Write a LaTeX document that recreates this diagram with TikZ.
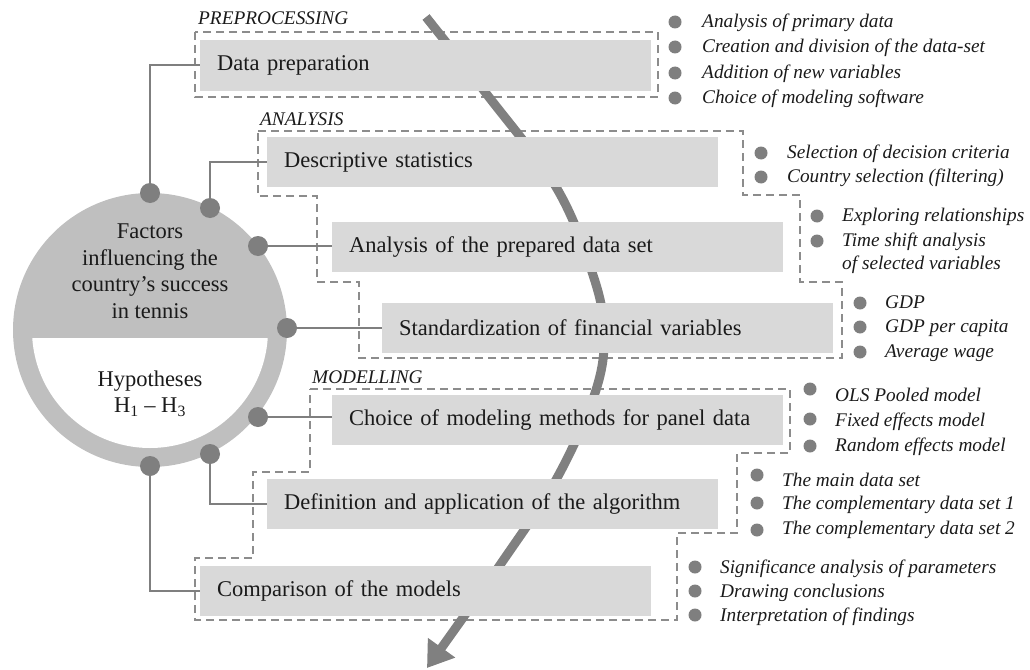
\documentclass[tikz,border=0pt]{standalone}
\usepackage{fontspec}
\setmainfont{Liberation Serif}
\usetikzlibrary{arrows.meta}
\definecolor{boxgray}{HTML}{D9D9D9}
\definecolor{ringgray}{HTML}{BFBFBF}
\definecolor{dotgray}{HTML}{7F7F7F}
\definecolor{dashgray}{HTML}{8C8C8C}
\definecolor{arrgray}{HTML}{808080}
\definecolor{txt}{HTML}{1A1A1A}
\newcommand\listitemx[6]{%
  \node[ldot] (#1) at (#2,#3) {};
  \node[ltext] (#1t) at (#4,#5+5.5) {#6};}
\begin{document}
\begin{tikzpicture}[x=1pt,y=-1pt,
  stepbox/.style={fill=boxgray, anchor=west, minimum height=50pt, inner xsep=17pt, inner ysep=0pt,
    text width=417pt, align=left, font=\fontsize{22.5}{27}\selectfont, text=txt},
  sect/.style={dashgray, line width=1.8pt, dash pattern=on 8pt off 5pt},
  sectlabel/.style={anchor=base west, inner sep=0pt, font=\fontsize{19.3}{23}\selectfont\itshape, text=txt},
  bigdot/.style={circle, fill=dotgray, minimum size=20pt, inner sep=0pt},
  ldot/.style={circle, fill=dotgray, minimum size=13pt, inner sep=0pt},
  ltext/.style={anchor=base west, inner sep=0pt, font=\fontsize{19.3}{23}\selectfont\itshape, text=txt},
  circtext/.style={align=center, inner sep=0pt, font=\fontsize{22.5}{26.67}\selectfont, text=txt},
  conn/.style={dotgray, line width=2pt},
  flow/.style={arrgray, line width=9pt, -{Triangle[length=25pt,width=32pt]}},
]
\useasboundingbox (0,0) rectangle (1030,669);

% section outlines
\draw[sect] (195,32) rectangle (658,97);
\draw[sect] (258,131) -- (743,131) -- (743,195) -- (800,195) -- (800,282) -- (842,282) -- (842,358)
  -- (359,358) -- (359,282) -- (317,282) -- (317,196) -- (258,196) -- cycle;
\draw[sect] (310,389) -- (790,389) -- (790,453) -- (737,453) -- (737,533) -- (677,533) -- (677,620)
  -- (195,620) -- (195,558) -- (253,558) -- (253,472) -- (310,472) -- cycle;

\node[sectlabel] (lpre) at (198,25) {PREPROCESSING};
\node[sectlabel] (lana) at (260,125) {ANALYSIS};
\node[sectlabel] (lmod) at (312,383) {MODELLING};

% flow arrow
\draw[flow] plot[smooth, tension=0.6] coordinates {(426,17) (485,92) (556,187) (592,272) (604,330) (596,390) (557,478) (500,565) (427,668)};

% step boxes
\node[stepbox] (dp) at (200,65.5) {Data preparation};
\node[stepbox] (ds) at (267,162) {Descriptive statistics};
\node[stepbox] (ap) at (332,247) {Analysis of the prepared data set};
\node[stepbox] (sf) at (382,328) {Standardization of financial variables};
\node[stepbox] (cm) at (332,420) {Choice of modeling methods for panel data};
\node[stepbox] (da) at (267,504) {Definition and application of the algorithm};
\node[stepbox] (cp) at (200,591) {Comparison of the models};

% central circle
\fill[ringgray] (150,330) circle[radius=137];
\begin{scope}
  \clip (0,338) rectangle (300,480);
  \fill[white] (150,330) circle[radius=118];
\end{scope}
\node[circtext] (fac) at (150,271.3) {Factors\\influencing the\\country’s success\\in tennis};
\node[circtext] (hyp) at (150,393.5) {Hypotheses\\H\textsubscript{1} – H\textsubscript{3}};

% dots on the circle
\node[bigdot] (k1) at (150,193) {};
\node[bigdot] (k2) at (210,208) {};
\node[bigdot] (k3) at (258,246) {};
\node[bigdot] (k4) at (287,328) {};
\node[bigdot] (k5) at (258,417) {};
\node[bigdot] (k6) at (210,454) {};
\node[bigdot] (k7) at (150,466) {};

% connectors
\draw[conn] (k1) |- (dp.west);
\draw[conn] (k2) |- (ds.west);
\draw[conn] (k3) -- (k3 -| ap.west);
\draw[conn] (k4) -- (k4 -| sf.west);
\draw[conn] (k5) -- (k5 -| cm.west);
\draw[conn] (k6) |- (da.west);
\draw[conn] (k7) |- (cp.west);

% bullet lists
\listitemx{a1}{675}{22}{702}{22}{Analysis of primary data}
\listitemx{a2}{675}{47}{702}{47}{Creation and division of the data-set}
\listitemx{a3}{675}{73}{702}{73}{Addition of new variables}
\listitemx{a4}{675}{98}{702}{98}{Choice of modeling software}

\listitemx{b1}{761}{153}{787}{153}{Selection of decision criteria}
\listitemx{b2}{761}{177}{787}{177}{Country selection (filtering)}

\listitemx{e1}{817}{216}{842}{216}{Exploring relationships}
\listitemx{e2}{817}{241}{842}{241}{Time shift analysis}
\node[ltext] (e3t) at (842,269.5) {of selected variables};

\listitemx{g1}{860}{303}{885}{303}{GDP}
\listitemx{g2}{860}{327}{885}{327}{GDP per capita}
\listitemx{g3}{860}{352}{885}{352}{Average wage}

\listitemx{m1}{810}{389}{835}{396}{OLS Pooled model}
\listitemx{m2}{810}{419}{835}{421}{Fixed effects model}
\listitemx{m3}{810}{446}{835}{446}{Random effects model}

\listitemx{n1}{757}{475}{782}{481}{The main data set}
\listitemx{n2}{757}{503}{782}{504}{The complementary data set 1}
\listitemx{n3}{757}{530}{782}{529}{The complementary data set 2}

\listitemx{s1}{695}{567}{720}{568}{Significance analysis of parameters}
\listitemx{s2}{695}{591}{720}{592}{Drawing conclusions}
\listitemx{s3}{695}{615}{720}{616}{Interpretation of findings}
\end{tikzpicture}
\end{document}
